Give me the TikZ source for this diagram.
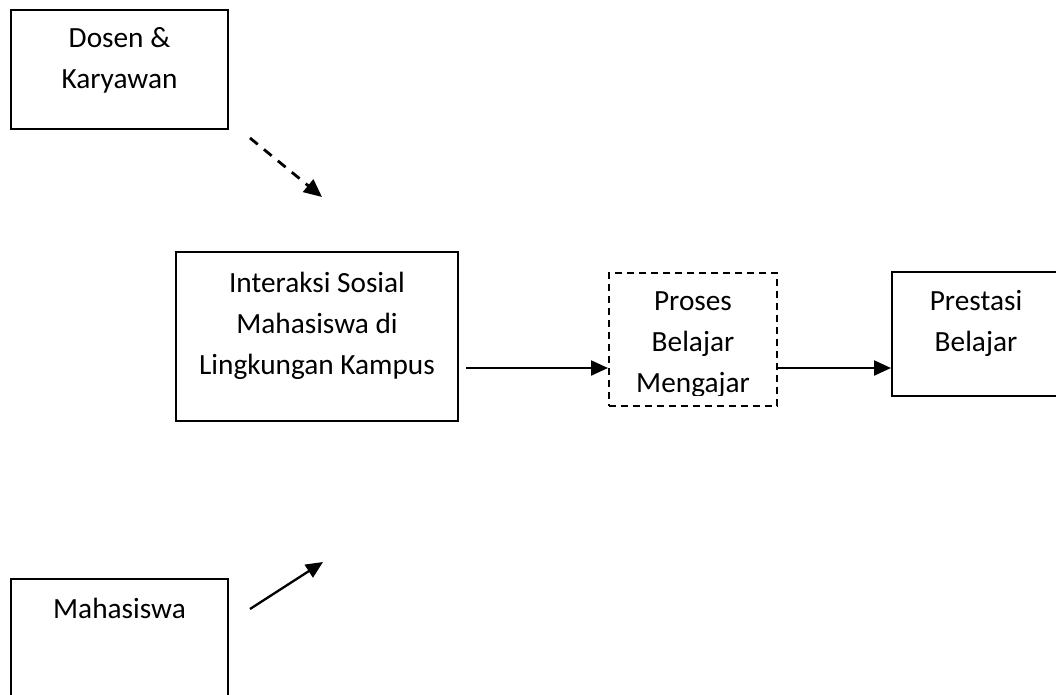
\documentclass[tikz,border=0pt]{standalone}
\usepackage{fontspec}
\setmainfont{Carlito}
\usetikzlibrary{arrows.meta}
\newcommand\mytxt[1]{\parbox[t]{320pt}{\centering\fontsize{29.3}{41}\selectfont #1}}
\tikzset{
  box/.style={draw=black, line width=2pt, rectangle, inner sep=0pt},
  dbox/.style={box, dash pattern=on 7pt off 5pt},
  txt/.style={anchor=base, inner sep=0pt},
  arr/.style={line width=2.3pt, -{Triangle[length=17pt,width=15pt]}},
  darr/.style={line width=2.8pt, dash pattern=on 10pt off 8pt, -{Triangle[length=18pt,width=16pt]}}
}
\begin{document}
\begin{tikzpicture}[x=1pt,y=-1pt]
\clip (0,0) rectangle (1056,695);
\fill[white] (0,0) rectangle (1056,695);
% boxes
\node[box, minimum width=217pt, minimum height=119pt] (dosen) at (119.5,69.5) {};
\node[box, minimum width=217pt, minimum height=150pt] (mhs) at (119.5,654) {};
\node[box, minimum width=282pt, minimum height=169pt] (inter) at (317,336.5) {};
\node[dbox, minimum width=168pt, minimum height=133pt] (proses) at (693,339.5) {};
\node[box, minimum width=180pt, minimum height=124pt] (prestasi) at (982,334) {};
% texts
\node[txt] (tdosen) at (119.5,48) {\mytxt{Dosen \&\\Karyawan}};
\node[txt] (tmhs) at (119.5,618) {\mytxt{Mahasiswa}};
\node[txt] (tinter) at (317,292) {\mytxt{Interaksi Sosial\\Mahasiswa di\\Lingkungan Kampus}};
\begin{scope}
\clip (609,273) rectangle (777,395);
\node[txt] (tproses) at (693,310) {\mytxt{Proses\\Belajar\\Mengajar}};
\end{scope}
\node[txt] (tprestasi) at (976,310) {\mytxt{Prestasi\\Belajar}};
% connectors
\coordinate (d1) at (250,138);
\coordinate (d2) at (322,197);
\draw[darr] (d1) -- (d2);
\coordinate (m1) at (250,609);
\coordinate (m2) at (323,562);
\draw[arr] (m1) -- (m2);
\coordinate (a1) at (466,368);
\draw[arr] (a1) -- (a1 -| proses.west);
\draw[arr, line cap=round] (proses.east |- a1) -- (prestasi.west |- a1);
\end{tikzpicture}
\end{document}
